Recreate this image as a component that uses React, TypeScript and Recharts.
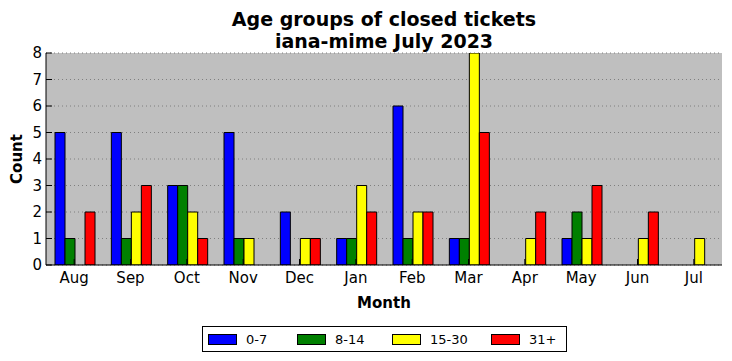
import { BarChart, Bar, XAxis, YAxis, CartesianGrid } from "recharts";

const months = ["Aug", "Sep", "Oct", "Nov", "Dec", "Jan", "Feb", "Mar", "Apr", "May", "Jun", "Jul"];
const age0to7 = [5, 5, 3, 5, 2, 1, 6, 1, 0, 1, 0, 0];
const age8to14 = [1, 1, 3, 1, 0, 1, 1, 1, 0, 2, 0, 0];
const age15to30 = [0, 2, 2, 1, 1, 3, 2, 8, 1, 1, 1, 1];
const age31plus = [2, 3, 1, 0, 1, 2, 2, 5, 2, 3, 2, 0];
const yTicks = [0, 1, 2, 3, 4, 5, 6, 7, 8];

const series = [
  { key: "a", name: "0-7", color: "#0000ff" },
  { key: "b", name: "8-14", color: "#008000" },
  { key: "c", name: "15-30", color: "#ffff00" },
  { key: "d", name: "31+", color: "#ff0000" },
];

const data = months.map((m, i) => ({
  month: m,
  a: age0to7[i],
  b: age8to14[i],
  c: age15to30[i],
  d: age31plus[i],
}));

const font = "'DejaVu Sans', sans-serif";
const tickStyle = { fill: "#000", fontSize: 15, fontFamily: font };

export default function App() {
  return (
    <div style={{ position: "absolute", left: 0, top: 0, width: 732, height: 361, background: "#fff", fontFamily: font }}>
      <div
        style={{
          position: "absolute",
          left: 46,
          width: 676,
          top: 8,
          textAlign: "center",
          fontWeight: "bold",
          fontSize: 19,
          lineHeight: "22px",
        }}
      >
        Age groups of closed tickets
        <br />
        iana-mime July 2023
      </div>
      <BarChart
        width={732}
        height={361}
        data={data}
        margin={{ top: 53, right: 10, bottom: 0, left: 0 }}
        barCategoryGap="16%"
        barGap={0}
      >
        <CartesianGrid
          xAxisId="bottom"
          yAxisId="left"
          vertical={false}
          fill="#bfbfbf"
          fillOpacity={1}
          stroke="#7f7f7f"
          strokeDasharray="1 3"
        />
        <XAxis
          xAxisId="bottom"
          dataKey="month"
          orientation="bottom"
          height={96}
          tickSize={-6}
          tickMargin={13}
          stroke="#000"
          tick={tickStyle}
          axisLine={{ stroke: "#000" }}
          tickLine={{ stroke: "#000" }}
          interval={0}
        />
        <XAxis
          xAxisId="top"
          dataKey="month"
          orientation="top"
          height={0}
          tickSize={-6}
          tickFormatter={() => ""}
          axisLine={{ stroke: "#000" }}
          tickLine={{ stroke: "#000" }}
          interval={0}
        />
        <YAxis
          yAxisId="left"
          width={46}
          domain={[0, 8]}
          ticks={yTicks}
          interval={0}
          tickSize={-6}
          tickMargin={10}
          tick={tickStyle}
          axisLine={{ stroke: "#000" }}
          tickLine={{ stroke: "#000" }}
          allowDataOverflow
        />
        <YAxis
          yAxisId="right"
          orientation="right"
          width={0}
          domain={[0, 8]}
          ticks={yTicks}
          interval={0}
          tickSize={-6}
          tickFormatter={() => ""}
          axisLine={{ stroke: "#000" }}
          tickLine={{ stroke: "#000" }}
        />
        {series.map((s) => (
          <Bar
            key={s.key}
            xAxisId="bottom"
            yAxisId="left"
            dataKey={s.key}
            name={s.name}
            fill={s.color}
            stroke="#000"
            strokeWidth={1}
            isAnimationActive={false}
          />
        ))}
      </BarChart>
      <div
        style={{
          position: "absolute",
          left: 4,
          top: 159,
          transform: "translate(-50%, -50%) rotate(-90deg)",
          marginLeft: 13,
          fontWeight: "bold",
          fontSize: 15,
          whiteSpace: "nowrap",
        }}
      >
        Count
      </div>
      <div
        style={{
          position: "absolute",
          left: 46,
          width: 676,
          top: 294,
          textAlign: "center",
          fontWeight: "bold",
          fontSize: 15,
        }}
      >
        Month
      </div>
      <div
        style={{
          position: "absolute",
          left: 202,
          top: 326,
          width: 363,
          height: 24,
          border: "1px solid #000",
          display: "flex",
          alignItems: "center",
          fontSize: 13,
        }}
      >
        {series.map((s, i) => (
          <div key={s.key} style={{ display: "flex", alignItems: "center", marginLeft: i === 0 ? 5 : 0 }}>
            <div style={{ width: 27, height: 9, background: s.color, border: "1px solid #000" }} />
            <span style={{ marginLeft: 9, width: i === 3 ? "auto" : [51, 57, 61][i] }}>{s.name}</span>
          </div>
        ))}
      </div>
    </div>
  );
}
